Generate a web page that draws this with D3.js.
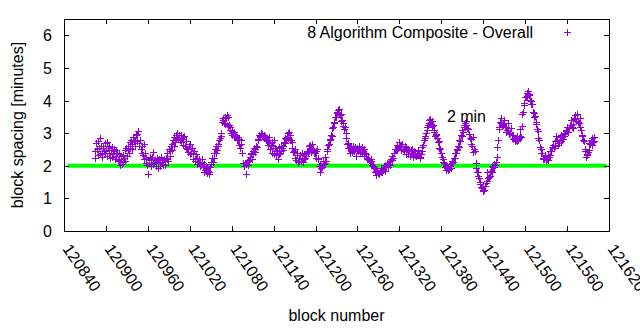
<!DOCTYPE html>
<html lang="en">
<head>
<meta charset="utf-8">
<title>Block spacing</title>
<script src="https://d3js.org/d3.v7.min.js"></script>
<style>
  body { margin: 0; background: #fff; }
  text { font-family: "Liberation Sans", Arial, sans-serif; font-size: 16px; fill: #000; }
  .pt { stroke: #9400d3; stroke-width: 1px; fill: none; }
  .target { stroke: #00ff00; stroke-width: 4px; }
  .frame { fill: none; stroke: #000; stroke-width: 1px; }
</style>
</head>
<body>
<svg id="chart" width="640" height="330"></svg>
<script>
// one value per block, starting at firstBlock
const firstBlock = 120884;
const spacing = [
  2.45, 2.25, 2.70, 2.50, 2.32, 2.75, 2.55, 2.35, 2.85, 2.60, 2.40, 2.28, 2.62, 2.45, 2.70, 2.38, 2.48, 2.72, 2.30, 2.55,
  2.40, 2.62, 2.25, 2.48, 2.58, 2.28, 2.35, 2.52, 2.45, 2.20, 2.30, 2.48, 2.38, 2.18, 2.15, 2.35, 2.02, 2.22, 2.30, 2.05,
  2.12, 2.32, 2.25, 2.15, 2.48, 2.55, 2.30, 2.52, 2.62, 2.38, 2.55, 2.72, 2.78, 2.52, 2.68, 2.88, 2.75, 2.62, 2.80, 2.95,
  2.75, 2.98, 3.08, 2.70, 2.62, 2.80, 2.52, 2.60, 2.40, 2.32, 2.68, 2.20, 2.38, 2.10, 2.25, 2.02, 1.75, 2.08, 2.18, 2.28,
  2.00, 2.20, 2.28, 2.05, 2.42, 2.12, 2.18, 1.98, 2.10, 2.25, 1.92, 2.08, 2.20, 1.98, 2.12, 2.28, 2.18, 2.05, 2.02, 2.22,
  2.15, 2.02, 2.25, 2.20, 2.38, 2.15, 2.50, 2.30, 2.45, 2.60, 2.68, 2.48, 2.80, 2.62, 2.88, 2.72, 2.95, 2.82, 3.00, 2.85,
  2.95, 2.88, 2.80, 2.95, 2.72, 2.82, 2.65, 2.88, 2.92, 2.60, 2.55, 2.75, 2.50, 2.42, 2.52, 2.62, 2.68, 2.35, 2.40, 2.55,
  2.20, 2.38, 2.45, 2.15, 2.22, 2.35, 2.25, 2.05, 2.12, 2.22, 2.08, 1.98, 2.02, 2.12, 2.20, 1.95, 2.05, 1.82, 1.88, 2.00,
  1.78, 1.92, 1.85, 1.75, 1.80, 1.95, 2.05, 2.12, 2.25, 2.12, 2.38, 2.25, 2.52, 2.40, 2.60, 2.48, 2.68, 2.62, 2.78, 2.85,
  2.90, 3.00, 3.35, 3.45, 3.40, 3.32, 3.28, 3.50, 3.45, 3.55, 3.50, 3.22, 3.25, 3.10, 3.18, 3.02, 3.08, 2.95, 3.02, 2.88,
  3.05, 2.90, 2.95, 2.80, 2.88, 2.78, 2.82, 2.65, 2.55, 2.78, 2.68, 2.40, 2.08, 1.98, 2.00, 2.10, 1.75, 2.05, 2.12, 2.02,
  2.18, 2.15, 2.28, 2.35, 2.40, 2.22, 2.35, 2.45, 2.55, 2.50, 2.42, 2.62, 2.58, 2.80, 2.82, 2.95, 2.88, 2.92, 3.00, 2.90,
  2.98, 2.88, 2.95, 2.92, 2.85, 2.82, 2.75, 2.78, 2.65, 2.70, 2.88, 2.50, 2.65, 2.72, 2.40, 2.62, 2.78, 2.35, 2.55, 2.45,
  2.32, 2.48, 2.20, 2.35, 2.58, 2.40, 2.45, 2.62, 2.55, 2.60, 2.48, 2.72, 2.70, 2.85, 2.82, 2.88, 3.00, 2.85, 3.05, 2.95,
  2.80, 2.78, 2.55, 2.72, 2.42, 2.45, 2.25, 2.50, 2.18, 2.32, 2.40, 2.12, 2.15, 2.25, 2.32, 2.15, 2.38, 2.20, 2.12, 2.35,
  2.22, 2.25, 2.35, 2.30, 2.45, 2.42, 2.60, 2.45, 2.65, 2.55, 2.42, 2.68, 2.48, 2.50, 2.38, 2.40, 2.25, 2.45, 2.50, 2.22,
  2.25, 2.00, 1.82, 2.05, 1.92, 1.95, 2.08, 2.15, 2.05, 2.10, 2.28, 2.15, 2.45, 2.50, 2.65, 2.68, 2.80, 2.82, 2.95, 2.92,
  3.15, 3.20, 3.35, 3.30, 3.50, 3.48, 3.65, 3.62, 3.72, 3.60, 3.75, 3.55, 3.60, 3.38, 3.40, 3.22, 3.30, 3.12, 3.18, 3.00,
  2.85, 2.68, 2.70, 2.55, 2.55, 2.40, 2.60, 2.58, 2.42, 2.55, 2.62, 2.45, 2.52, 2.58, 2.30, 2.48, 2.55, 2.45, 2.62, 2.38,
  2.48, 2.45, 2.58, 2.42, 2.45, 2.30, 2.52, 2.38, 2.35, 2.22, 2.20, 2.25, 2.18, 2.18, 2.12, 2.15, 2.20, 2.02, 1.98, 1.95,
  1.92, 1.80, 1.85, 1.72, 1.88, 1.78, 1.78, 1.75, 1.85, 1.82, 1.92, 1.80, 1.88, 1.92, 1.95, 1.85, 2.02, 1.98, 2.08, 1.95,
  2.02, 2.05, 2.15, 2.02, 2.20, 2.18, 2.30, 2.25, 2.40, 2.38, 2.50, 2.52, 2.65, 2.48, 2.55, 2.58, 2.72, 2.60, 2.62, 2.48,
  2.68, 2.50, 2.48, 2.45, 2.60, 2.58, 2.35, 2.50, 2.52, 2.35, 2.45, 2.30, 2.38, 2.48, 2.52, 2.28, 2.35, 2.45, 2.38, 2.32,
  2.30, 2.40, 2.48, 2.32, 2.38, 2.25, 2.28, 2.35, 2.45, 2.58, 2.65, 2.78, 2.85, 2.90, 3.00, 3.10, 3.18, 3.25, 3.32, 3.40,
  3.42, 3.28, 3.38, 3.22, 3.25, 3.05, 3.10, 2.92, 2.95, 2.98, 2.85, 2.72, 2.75, 2.55, 2.52, 2.40, 2.38, 2.28, 2.22, 2.12,
  2.08, 1.95, 1.98, 1.88, 1.92, 1.95, 1.88, 1.90, 2.00, 2.05, 1.92, 2.08, 2.15, 2.12, 2.25, 2.25, 2.40, 2.38, 2.50, 2.48,
  2.60, 2.58, 2.78, 2.75, 2.95, 2.92, 3.10, 3.05, 3.25, 3.20, 3.32, 3.25, 3.38, 3.15, 3.12, 2.98, 2.98, 2.85, 2.82, 2.68,
  2.62, 2.42, 2.88, 2.50, 2.45, 2.08, 1.92, 1.80, 1.80, 1.68, 1.62, 1.50, 1.45, 1.35, 1.32, 1.22, 1.25, 1.25, 1.38, 1.38,
  1.48, 1.52, 1.80, 1.62, 1.65, 1.70, 1.82, 1.85, 1.98, 1.82, 1.95, 1.96, 2.05, 2.02, 2.12, 2.28, 2.58, 2.78, 3.12, 3.18,
  3.35, 3.32, 3.45, 3.22, 3.25, 3.28, 3.40, 3.18, 3.20, 3.05, 3.10, 3.15, 3.30, 2.98, 3.00, 3.02, 3.15, 2.95, 2.95, 2.82,
  2.85, 2.75, 2.80, 2.78, 2.90, 2.75, 2.78, 2.85, 3.12, 2.90, 2.88, 3.22, 3.58, 3.65, 3.85, 3.92, 4.12, 4.12, 4.22, 4.15,
  4.28, 4.20, 4.18, 4.02, 3.98, 3.88, 3.88, 3.65, 3.62, 3.50, 3.52, 3.35, 3.28, 3.12, 3.08, 2.85, 2.78, 2.58, 2.52, 2.38,
  2.38, 2.25, 2.22, 2.22, 2.32, 2.30, 2.18, 2.20, 2.32, 2.18, 2.28, 2.32, 2.45, 2.45, 2.58, 2.58, 2.65, 2.55, 2.75, 2.62,
  2.92, 2.78, 2.80, 2.65, 2.70, 2.70, 2.88, 2.75, 2.95, 2.82, 2.82, 2.90, 3.00, 2.98, 3.10, 3.08, 3.20, 3.05, 3.05, 3.15,
  3.25, 3.25, 3.40, 3.18, 3.15, 3.28, 3.45, 3.42, 3.55, 3.38, 3.58, 3.35, 3.35, 3.32, 3.45, 3.18, 3.10, 2.92, 2.95, 2.78,
  2.75, 2.52, 2.45, 2.28, 2.35, 2.32, 2.42, 2.48, 2.70, 2.68, 2.78, 2.65, 2.85, 2.72, 2.88, 2.75
];
const xTickValues = [120840, 120900, 120960, 121020, 121080, 121140, 121200,
  121260, 121320, 121380, 121440, 121500, 121560, 121620];
const yTickValues = [0, 1, 2, 3, 4, 5, 6];
const targetMinutes = 2;
const targetBlocks = [120845, 121617];
const targetLabel = "2 min";
const targetLabelAt = [121388, 3.5];
const seriesName = "8 Algorithm Composite - Overall";

const margin = {top: 19, right: 31, bottom: 99, left: 64};
const width = 640 - margin.left - margin.right;
const height = 330 - margin.top - margin.bottom;

const points = spacing.map((v, i) => ({block: firstBlock + i, v: v}));

const x = d3.scaleLinear().domain([120840, 121620]).range([0, width]);
const y = d3.scaleLinear().domain([0, 6.5]).range([height, 0]);

const svg = d3.select('#chart');
const g = svg.append('g').attr('transform', `translate(${margin.left},${margin.top})`);

// target line under the points
g.append('line')
  .attr('class', 'target')
  .attr('x1', x(targetBlocks[0])).attr('x2', x(targetBlocks[1]))
  .attr('y1', y(targetMinutes)).attr('y2', y(targetMinutes));

const cross = 'M-3.5,0H3.5M0,-3.5V3.5';
g.selectAll('path.pt')
  .data(points)
  .join('path')
  .attr('class', 'pt')
  .attr('shape-rendering', 'crispEdges')
  .attr('d', cross)
  .attr('transform', d => `translate(${Math.round(x(d.block)) + 0.5},${Math.round(y(d.v)) + 0.5})`);

// axes, ticks pointing inward on all sides
const axBottom = g.append('g').attr('transform', `translate(0,${height})`)
  .call(d3.axisBottom(x).tickValues(xTickValues).tickSize(-5).tickFormat(''));
const axTop = g.append('g')
  .call(d3.axisTop(x).tickValues(xTickValues).tickSize(-5).tickFormat(''));
const axLeft = g.append('g')
  .call(d3.axisLeft(y).tickValues(yTickValues).tickSize(-5).tickFormat(''));
const axRight = g.append('g').attr('transform', `translate(${width},0)`)
  .call(d3.axisRight(y).tickValues(yTickValues).tickSize(-5).tickFormat(''));
[axBottom, axTop, axLeft, axRight].forEach(a => {
  a.select('.domain').remove();
  a.selectAll('line').attr('stroke', '#000').attr('shape-rendering', 'crispEdges');
  a.selectAll('text').remove();
});

g.append('rect').attr('class', 'frame')
  .attr('shape-rendering', 'crispEdges')
  .attr('x', 0.5).attr('y', 0.5).attr('width', width).attr('height', height);

// tick labels
g.selectAll('text.xl')
  .data(xTickValues)
  .join('text')
  .attr('class', 'xl')
  .attr('transform', d => `translate(${x(d) - 2},${height + 18}) rotate(55)`)
  .text(d => d);

g.selectAll('text.yl')
  .data(yTickValues)
  .join('text')
  .attr('class', 'yl')
  .attr('text-anchor', 'end')
  .attr('x', -12)
  .attr('y', d => y(d) + 6)
  .text(d => d);

// axis titles
svg.append('text')
  .attr('text-anchor', 'middle')
  .attr('transform', `translate(23,${margin.top + height / 2}) rotate(-90)`)
  .text('block spacing [minutes]');
svg.append('text')
  .attr('text-anchor', 'middle')
  .attr('x', margin.left + width / 2)
  .attr('y', 321)
  .text('block number');

// legend
g.append('text')
  .attr('text-anchor', 'end')
  .attr('x', 469).attr('y', 19)
  .text(seriesName);
g.append('path').attr('class', 'pt').attr('shape-rendering', 'crispEdges')
  .attr('d', cross)
  .attr('transform', `translate(503.5,13.5)`);

// target label
g.append('text')
  .attr('x', x(targetLabelAt[0]))
  .attr('y', y(targetLabelAt[1]) + 5.5)
  .text(targetLabel);
</script>
</body>
</html>
